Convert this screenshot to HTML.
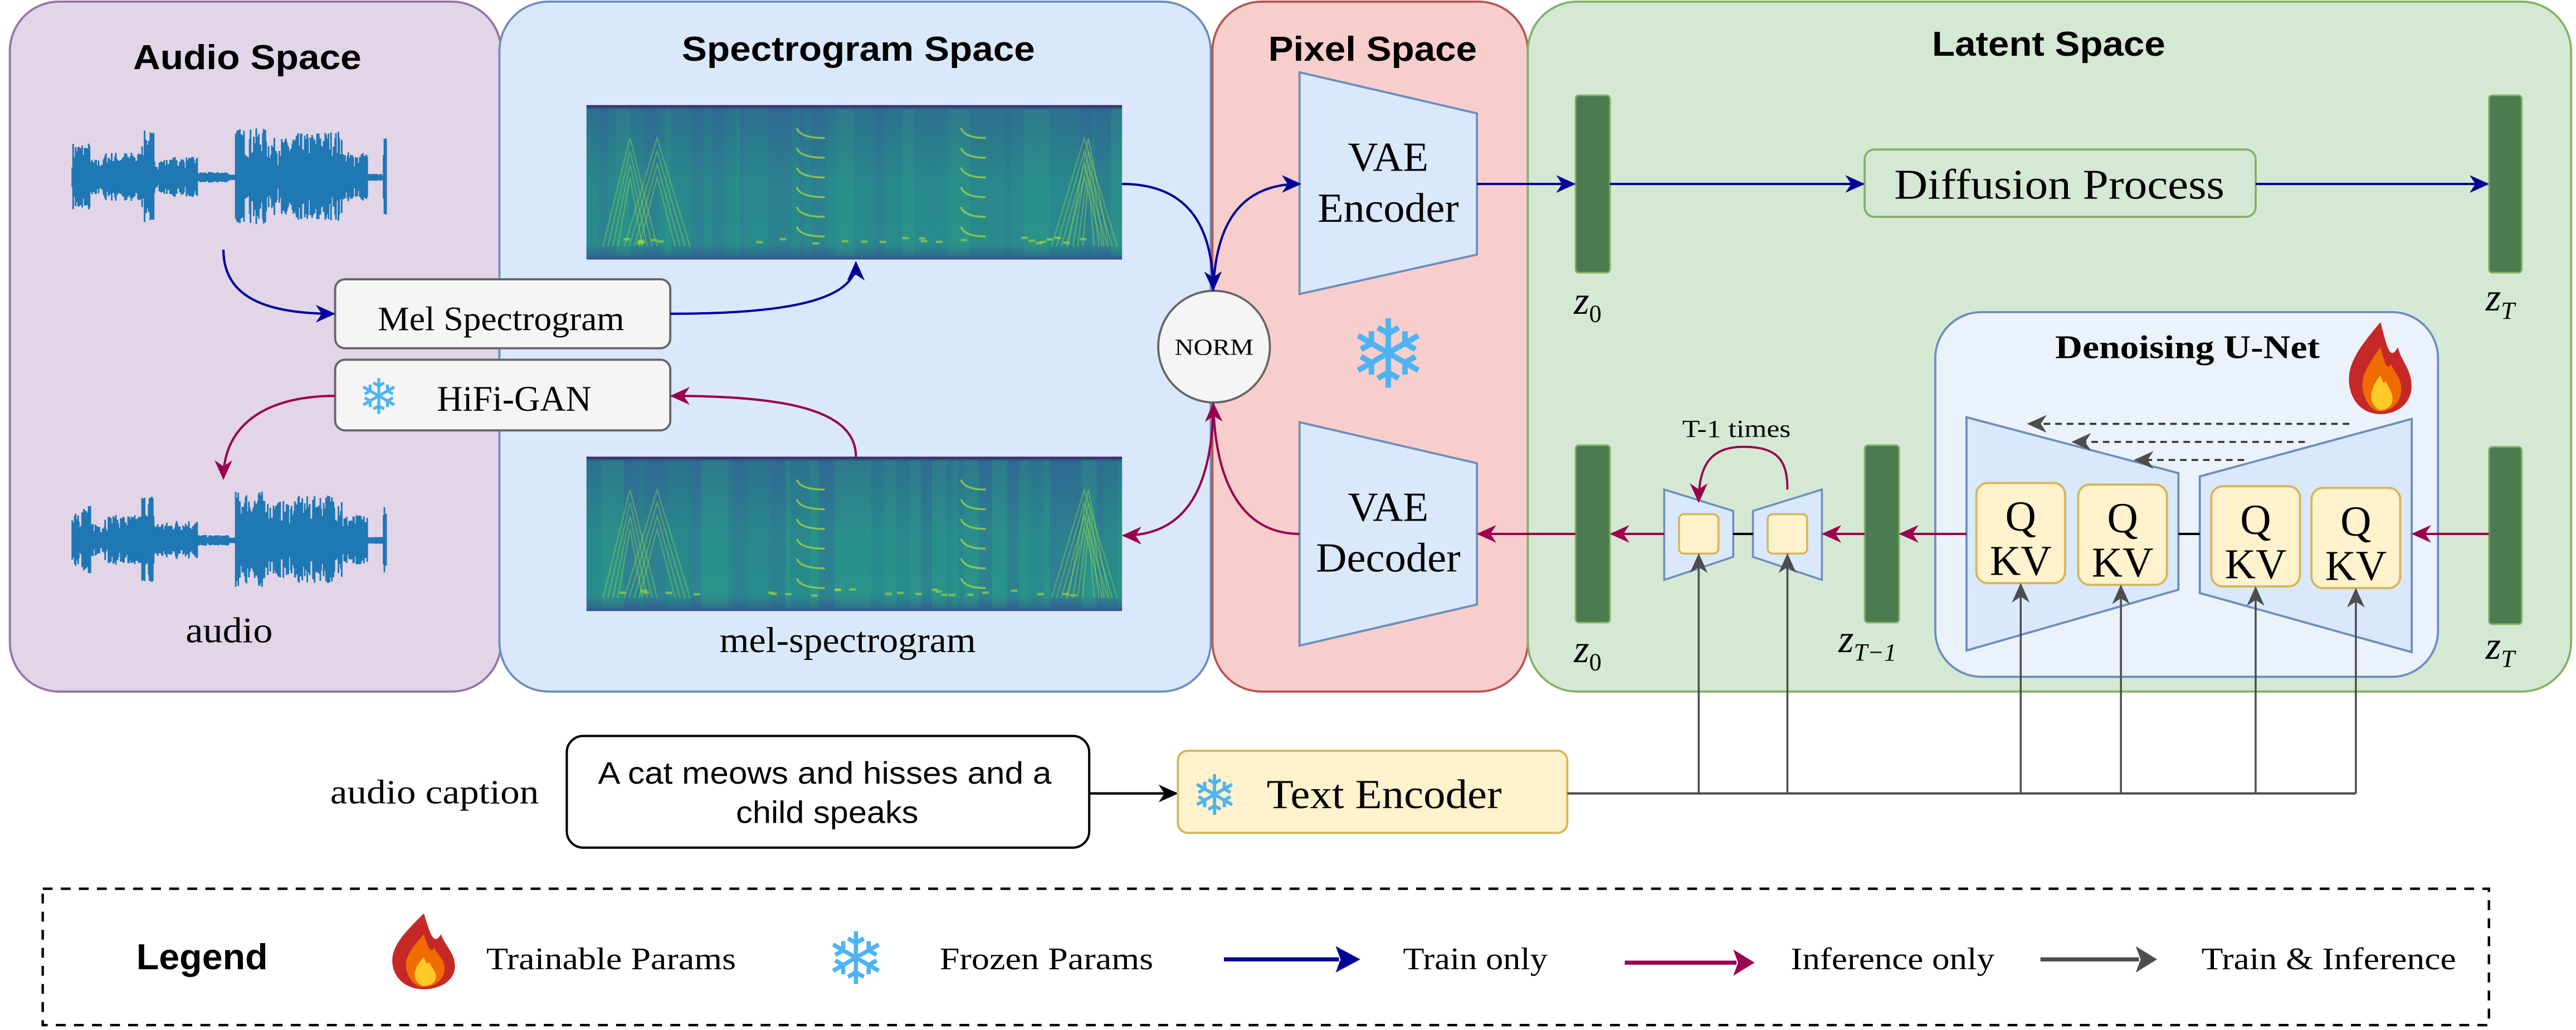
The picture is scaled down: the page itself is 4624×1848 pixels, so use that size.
<!DOCTYPE html>
<html><head><meta charset="utf-8"><style>
html,body{margin:0;padding:0;background:#fff;}
svg{display:block}
.t{font-family:"Liberation Serif",serif;fill:#000}
.b{font-family:"Liberation Sans",sans-serif;font-weight:bold;fill:#000}
.sf{font-family:"DejaVu Sans",sans-serif;fill:#4db3f5}
</style></head><body>
<svg id="s" width="4624" height="1848" viewBox="0 0 1568 627" preserveAspectRatio="none" xmlns="http://www.w3.org/2000/svg">
<defs>
<marker id="mb" viewBox="0 0 10 10" refX="9" refY="5" markerUnits="userSpaceOnUse" markerWidth="12" markerHeight="12" orient="auto-start-reverse"><path d="M0,0.5 L10,5 L0,9.5 L3,5z" fill="#000099"/></marker>
<marker id="mr" viewBox="0 0 10 10" refX="9" refY="5" markerUnits="userSpaceOnUse" markerWidth="12" markerHeight="12" orient="auto-start-reverse"><path d="M0,0.5 L10,5 L0,9.5 L3,5z" fill="#99004d"/></marker>
<marker id="mg" viewBox="0 0 10 10" refX="9" refY="5" markerUnits="userSpaceOnUse" markerWidth="12" markerHeight="12" orient="auto-start-reverse"><path d="M0,0.5 L10,5 L0,9.5 L3,5z" fill="#4d4d4d"/></marker>
<marker id="mL" viewBox="0 0 10 10" refX="9" refY="5" markerUnits="userSpaceOnUse" markerWidth="16" markerHeight="16" orient="auto"><path d="M0,0 L10,5 L0,10 L3,5z" fill="context-stroke"/></marker>
<marker id="mk" viewBox="0 0 10 10" refX="9" refY="5" markerUnits="userSpaceOnUse" markerWidth="12" markerHeight="12" orient="auto"><path d="M0,0.5 L10,5 L0,9.5 L3,5z" fill="#000"/></marker>
<linearGradient id="sg" x1="0" y1="0" x2="0" y2="1">
<stop offset="0" stop-color="#3b1f5f"/><stop offset="0.03" stop-color="#2f6b8e"/><stop offset="0.5" stop-color="#2a8a8c"/><stop offset="0.9" stop-color="#2a8f8a"/><stop offset="1" stop-color="#33588d"/></linearGradient>
<g id="flame">
<path d="M20,0 C8,18 0,30 2,46 C4,60 12,66 20,66 C30,66 38,58 38,46 C38,34 32,28 30,18 C26,28 24,20 20,0z" fill="#c62828"/>
<path d="M20,18 C12,32 8,40 10,50 C12,60 16,64 20,64 C26,64 32,58 32,48 C32,40 28,36 26,30 C24,36 22,28 20,18z" fill="#ef6c00"/>
<path d="M20,38 C15,46 14,52 15,57 C17,62 19,63 20,63 C24,63 27,60 27,55 C27,50 24,46 23,42 C22,46 21,42 20,38z" fill="#ffca28"/>
</g>
</defs>

<rect x="6" y="1" width="299" height="420" rx="30" fill="#e1d5e7" stroke="#9673a6" stroke-width="1.3"/>
<rect x="304" y="1" width="433" height="420" rx="30" fill="#dae8fc" stroke="#6c8ebf" stroke-width="1.3"/>
<rect x="738" y="1" width="192" height="420" rx="30" fill="#f8cecc" stroke="#b85450" stroke-width="1.3"/>
<rect x="930" y="1" width="635" height="420" rx="30" fill="#d5e8d4" stroke="#82b366" stroke-width="1.3"/>

<text class="b" x="81" y="42" font-size="21" textLength="139" lengthAdjust="spacingAndGlyphs">Audio Space</text>
<text class="b" x="415" y="37" font-size="21" textLength="215" lengthAdjust="spacingAndGlyphs">Spectrogram Space</text>
<text class="b" x="772" y="37" font-size="21" textLength="127" lengthAdjust="spacingAndGlyphs">Pixel Space</text>
<text class="b" x="1176" y="34" font-size="21" textLength="142" lengthAdjust="spacingAndGlyphs">Latent Space</text>

<g id="wf1" stroke="#1f77b4" stroke-width="1"></g>
<g id="wf2" stroke="#1f77b4" stroke-width="1"></g>
<g id="sp1"></g><g id="sp2"></g>

<text class="t" x="113" y="391" font-size="22" textLength="53" lengthAdjust="spacingAndGlyphs">audio</text>
<text class="t" x="438" y="397" font-size="22" textLength="156" lengthAdjust="spacingAndGlyphs">mel-spectrogram</text>

<rect x="204" y="170" width="204" height="42" rx="6" fill="#f5f5f5" stroke="#666" stroke-width="1.3"/>
<text class="t" x="230" y="201" font-size="21" fill="#333" textLength="150" lengthAdjust="spacingAndGlyphs">Mel Spectrogram</text>
<rect x="204" y="219" width="204" height="43" rx="6" fill="#f5f5f5" stroke="#666" stroke-width="1.3"/>
<text class="sf" x="218" y="252" font-size="30">❄</text>
<text class="t" x="266" y="250" font-size="22" textLength="94" lengthAdjust="spacingAndGlyphs">HiFi-GAN</text>

<ellipse cx="739" cy="211" rx="34" ry="34" fill="#f5f5f5" stroke="#666" stroke-width="1.3"/>
<text class="t" x="739" y="216" font-size="14" text-anchor="middle" textLength="48" lengthAdjust="spacingAndGlyphs">NORM</text>

<path d="M791,44 L899,69 L899,155 L791,179z" fill="#dae8fc" stroke="#6c8ebf" stroke-width="1.3"/>
<path d="M791,257 L899,282 L899,368 L791,393z" fill="#dae8fc" stroke="#6c8ebf" stroke-width="1.3"/>
<text class="t" x="845" y="104" font-size="25" text-anchor="middle" textLength="49" lengthAdjust="spacingAndGlyphs">VAE</text>
<text class="t" x="845" y="135" font-size="25" text-anchor="middle" textLength="86" lengthAdjust="spacingAndGlyphs">Encoder</text>
<text class="t" x="845" y="317" font-size="25" text-anchor="middle" textLength="49" lengthAdjust="spacingAndGlyphs">VAE</text>
<text class="t" x="845" y="348" font-size="25" text-anchor="middle" textLength="88" lengthAdjust="spacingAndGlyphs">Decoder</text>
<text class="sf" x="845" y="236" font-size="58" text-anchor="middle">❄</text>

<g fill="none" stroke-width="1.4">
<path d="M136,152 C136,180 160,191 203,191" stroke="#000099" marker-end="url(#mb)"/>
<path d="M408,191 C470,191 521,185 521,160" stroke="#000099" marker-end="url(#mb)"/>
<path d="M683,112 C725,112 738,140 738.5,176" stroke="#000099" marker-end="url(#mb)"/>
<path d="M738.5,177 C740,130 760,112 791,112" stroke="#000099" marker-end="url(#mb)"/>
<path d="M521,278 C521,250 480,241 409,241" stroke="#99004d" marker-end="url(#mr)"/>
<path d="M204,241 C160,241 136,260 136,291" stroke="#99004d" marker-end="url(#mr)"/>
<path d="M791,325 C760,325 740,300 738.5,246" stroke="#99004d" marker-end="url(#mr)"/>
<path d="M738.5,250 C737,300 720,326 684,326" stroke="#99004d" marker-end="url(#mr)"/>
</g>

<rect x="959" y="58" width="21" height="108" rx="2" fill="#4a7c50" stroke="#82b366" stroke-width="1"/>
<rect x="1515" y="58" width="20" height="108" rx="2" fill="#4a7c50" stroke="#82b366" stroke-width="1"/>
<rect x="1135" y="91" width="238" height="41" rx="6" fill="#d5e8d4" stroke="#82b366" stroke-width="1.3"/>
<text class="t" x="1153" y="121" font-size="26" textLength="201" lengthAdjust="spacingAndGlyphs">Diffusion Process</text>
<g fill="none" stroke="#000099" stroke-width="1.4">
<line x1="899" y1="112" x2="958" y2="112" marker-end="url(#mb)"/>
<line x1="980" y1="112" x2="1134" y2="112" marker-end="url(#mb)"/>
<line x1="1373" y1="112" x2="1514" y2="112" marker-end="url(#mb)"/>
</g>
<text class="t" x="958" y="191" font-size="24" font-style="italic">z<tspan font-size="15" font-style="normal" dy="5">0</tspan></text>
<text class="t" x="1513" y="189" font-size="24" font-style="italic">z<tspan font-size="15" dy="5">T</tspan></text>

<rect x="1178" y="190" width="306" height="222" rx="28" fill="#ecf2fb" stroke="#6c8ebf" stroke-width="1.3"/>
<text class="t" x="1251" y="218" font-size="20" font-weight="bold" textLength="161" lengthAdjust="spacingAndGlyphs">Denoising U-Net</text>
<use href="#flame" transform="translate(1428,196) scale(1.05,0.85)"/>
<path d="M1197,254 L1326,288 L1326,359 L1197,396z" fill="#dae8fc" stroke="#6c8ebf" stroke-width="1.3"/>
<path d="M1339,290 L1468,255 L1468,397 L1339,361z" fill="#dae8fc" stroke="#6c8ebf" stroke-width="1.3"/>
<line x1="1326" y1="325" x2="1339" y2="325" stroke="#000" stroke-width="1.4"/>
<g fill="none" stroke="#333" stroke-width="1.2" stroke-dasharray="4,3">
<line x1="1430" y1="258" x2="1235" y2="258" marker-end="url(#mg)"/>
<line x1="1403" y1="269" x2="1262" y2="269" marker-end="url(#mg)"/>
<line x1="1366" y1="280" x2="1300" y2="280" marker-end="url(#mg)"/>
</g>
<g id="qkv"></g>

<rect x="959" y="271" width="21" height="108" rx="2" fill="#4a7c50" stroke="#82b366"/>
<rect x="1135" y="271" width="21" height="108" rx="2" fill="#4a7c50" stroke="#82b366"/>
<rect x="1515" y="272" width="20" height="108" rx="2" fill="#4a7c50" stroke="#82b366"/>
<text class="t" x="958" y="403" font-size="24" font-style="italic">z<tspan font-size="15" font-style="normal" dy="5">0</tspan></text>
<text class="t" x="1119" y="397" font-size="24" font-style="italic">z<tspan font-size="15" dy="5">T−1</tspan></text>
<text class="t" x="1513" y="401" font-size="24" font-style="italic">z<tspan font-size="15" dy="5">T</tspan></text>

<path d="M1013,298 L1055,311 L1055,339 L1013,353z" fill="#dae8fc" stroke="#6c8ebf" stroke-width="1.2"/>
<path d="M1067,311 L1109,298 L1109,353 L1067,339z" fill="#dae8fc" stroke="#6c8ebf" stroke-width="1.2"/>
<rect x="1022" y="313" width="24" height="24" rx="3" fill="#fff2cc" stroke="#d6b656" stroke-width="1.2"/>
<rect x="1076" y="313" width="24" height="24" rx="3" fill="#fff2cc" stroke="#d6b656" stroke-width="1.2"/>
<line x1="1055" y1="325" x2="1067" y2="325" stroke="#000" stroke-width="1.4"/>
<text class="t" x="1024" y="266" font-size="15" textLength="66" lengthAdjust="spacingAndGlyphs">T-1 times</text>
<path d="M1088,298 C1088,280 1082,272 1061,272 C1040,272 1034,285 1034,305" fill="none" stroke="#99004d" stroke-width="1.3" marker-end="url(#mr)"/>

<g fill="none" stroke="#99004d" stroke-width="1.4">
<line x1="1515" y1="325" x2="1469" y2="325" marker-end="url(#mr)"/>
<line x1="1197" y1="325" x2="1157" y2="325" marker-end="url(#mr)"/>
<line x1="1135" y1="325" x2="1110" y2="325" marker-end="url(#mr)"/>
<line x1="1013" y1="325" x2="981" y2="325" marker-end="url(#mr)"/>
<line x1="959" y1="325" x2="900" y2="325" marker-end="url(#mr)"/>
</g>

<text class="t" x="201" y="489" font-size="21" textLength="127" lengthAdjust="spacingAndGlyphs">audio caption</text>
<rect x="345" y="448" width="318" height="68" rx="10" fill="#fff" stroke="#000" stroke-width="1.4"/>
<text x="364" y="477" font-family="Liberation Sans,sans-serif" font-size="19" textLength="276" lengthAdjust="spacingAndGlyphs">A cat meows and hisses and a</text>
<text x="448" y="501" font-family="Liberation Sans,sans-serif" font-size="19" textLength="111" lengthAdjust="spacingAndGlyphs">child speaks</text>
<line x1="663" y1="483" x2="716" y2="483" stroke="#000" stroke-width="1.5" marker-end="url(#mk)"/>
<rect x="717" y="457" width="237" height="50" rx="6" fill="#fff2cc" stroke="#d6b656" stroke-width="1.3"/>
<text class="sf" x="725" y="496" font-size="34">❄</text>
<text class="t" x="771" y="492" font-size="25" textLength="143" lengthAdjust="spacingAndGlyphs">Text Encoder</text>
<g id="vl" fill="none" stroke="#4d4d4d" stroke-width="1.2"></g>
<line x1="954" y1="483" x2="1434" y2="483" stroke="#4d4d4d" stroke-width="1.4"/>

<rect x="26" y="541" width="1489" height="83" fill="none" stroke="#000" stroke-width="1.5" stroke-dasharray="6,5"/>
<text class="b" x="83" y="590" font-size="22" textLength="80" lengthAdjust="spacingAndGlyphs">Legend</text>
<use href="#flame" transform="translate(237,556) scale(1.05,0.7)"/>
<text class="t" x="296" y="590" font-size="19" textLength="152" lengthAdjust="spacingAndGlyphs">Trainable Params</text>
<text class="sf" x="521" y="599" font-size="44" text-anchor="middle">❄</text>
<text class="t" x="572" y="590" font-size="19" textLength="130" lengthAdjust="spacingAndGlyphs">Frozen Params</text>
<line x1="745" y1="584" x2="815" y2="584" stroke="#000099" stroke-width="2.5"/>
<path d="M813,576 L828,584 L813,592 L816,584z" fill="#000099"/>
<text class="t" x="854" y="590" font-size="19" textLength="88" lengthAdjust="spacingAndGlyphs">Train only</text>
<line x1="989" y1="586" x2="1057" y2="586" stroke="#99004d" stroke-width="2.5"/>
<path d="M1055,578 L1068,586 L1055,594 L1058,586z" fill="#99004d"/>
<text class="t" x="1090" y="590" font-size="19" textLength="124" lengthAdjust="spacingAndGlyphs">Inference only</text>
<line x1="1242" y1="584" x2="1302" y2="584" stroke="#4d4d4d" stroke-width="2.5"/>
<path d="M1300,576 L1313,584 L1300,592 L1303,584z" fill="#4d4d4d"/>
<text class="t" x="1340" y="590" font-size="19" textLength="155" lengthAdjust="spacingAndGlyphs">Train &amp; Inference</text>
</svg>
<script>
var NS="http://www.w3.org/2000/svg";
function el(t,a,p){var e=document.createElementNS(NS,t);for(var k in a)e.setAttribute(k,a[k]);p.appendChild(e);return e;}
var seed=7;function r(){seed=(seed*16807)%2147483647;return seed/2147483647;}
function env(f){
 var segs=[[0,0.06,0.7],[0.06,0.1,0.35],[0.1,0.22,0.5],[0.22,0.26,0.95],[0.26,0.32,0.35],[0.32,0.4,0.4],[0.4,0.5,0.08],[0.5,0.52,0.03],[0.52,0.62,1],[0.62,0.7,0.8],[0.7,0.78,0.9],[0.78,0.86,0.95],[0.86,0.94,0.5],[0.94,0.99,0.04],[0.99,1.01,0.8]];
 for(var i=0;i<segs.length;i++)if(f>=segs[i][0]&&f<segs[i][1])return segs[i][2];return 0.05;}
function wave(id,cy){var g=document.getElementById(id);var d="";
 for(var x=44;x<=235;x+=0.5){var e=env((x-44)/191);var a=e*(0.25+0.75*Math.pow(r(),0.7))*29+1;d+="M"+x.toFixed(1)+","+(cy-a).toFixed(1)+"V"+(cy+a*0.95).toFixed(1);}
 el("path",{d:d,fill:"none"},g);}
wave("wf1",108);wave("wf2",329);
function spec(id,y0){var g=document.getElementById(id);var x0=357,w=326,h=94;
 el("rect",{x:x0,y:y0,width:w,height:h,fill:"url(#sg)"},g);
 var x=x0;while(x<x0+w){var cw=2+r()*8;var v=r();
  var c=v<0.3?"#33689a":(v<0.7?"#26828e":"#2a9a88");
  el("rect",{x:x,y:y0+2,width:Math.min(cw,x0+w-x),height:h-4,fill:c,opacity:0.3},g);x+=cw;}
 var lines=[[367,400,0.15],[380,420,0.1],[640,680,0.15],[650,675,0.1]];
 lines.forEach(function(L){for(var k=0;k<4;k++){el("path",{d:"M"+(L[0]+k*3)+","+(y0+h-8)+" L"+((L[0]+L[1])/2)+","+(y0+20+k*8)+" L"+(L[1]-k*3)+","+(y0+h-8),fill:"none",stroke:"#8fd14f",opacity:0.45,"stroke-width":0.8},g);}});
 [[485,502],[585,600]].forEach(function(P){for(var k=0;k<6;k++){var yy=y0+20+k*12;el("path",{d:"M"+P[0]+","+(yy-6)+" Q"+(P[0]+2)+","+yy+" "+P[1]+","+yy,fill:"none",stroke:"#a6db3c",opacity:0.7,"stroke-width":1.2},g);}});
 for(var k=0;k<25;k++){var xx=x0+20+r()*(w-40);el("rect",{x:xx,y:y0+h-14+r()*4,width:4,height:1.5,fill:"#a6db3c",opacity:0.6},g);}
}
spec("sp1",64);spec("sp2",278);
var q=document.getElementById("qkv");
[[1203,294],[1265,295],[1346,296],[1407,297]].forEach(function(p){
 el("rect",{x:p[0],y:p[1],width:54,height:61,rx:7,fill:"#fff2cc",stroke:"#d6b656","stroke-width":1.3},q);
 var t=el("text",{x:p[0]+27,y:p[1]+29,"font-size":26,"text-anchor":"middle","class":"t"},q);t.textContent="Q";
 var t2=el("text",{x:p[0]+27,y:p[1]+56,"font-size":26,"text-anchor":"middle","class":"t"},q);t2.textContent="KV";});
var vl=document.getElementById("vl");
[[1034,339],[1088,339],[1230,357],[1291,358],[1373,359],[1434,360]].forEach(function(p){
 el("line",{x1:p[0],y1:483,x2:p[0],y2:p[1]-1,"marker-end":"url(#mg)"},vl);});
</script>
</body></html>
